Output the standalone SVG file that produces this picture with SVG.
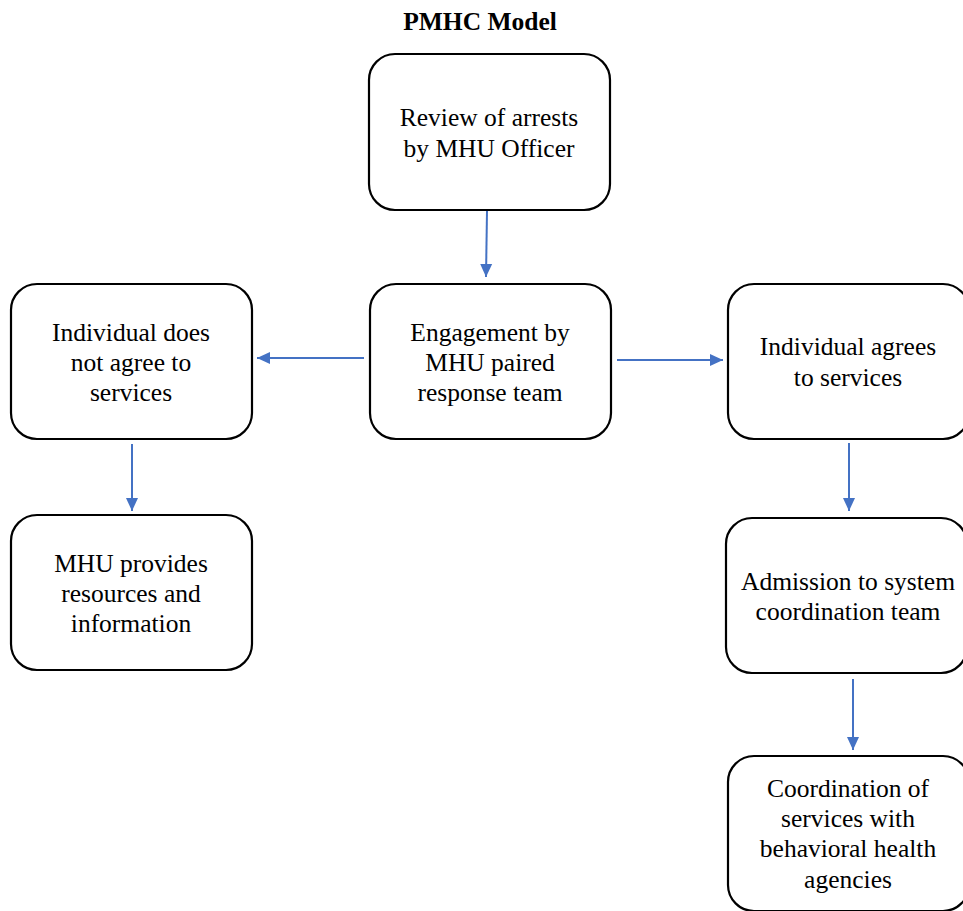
<svg xmlns="http://www.w3.org/2000/svg" width="963" height="911" viewBox="0 0 963 911">
<style>
.box{fill:#fff;stroke:#000;stroke-width:2.2}
.t{font-family:"Liberation Serif","Times New Roman",serif;font-size:25.5px;fill:#000;text-anchor:middle}
.title{font-weight:bold}
.c{stroke:#4472C4;stroke-width:2;fill:none;marker-end:url(#ah)}
</style>
<defs>
<marker id="ah" markerUnits="userSpaceOnUse" markerWidth="14" markerHeight="14" viewBox="0 0 14 14" refX="13" refY="7" orient="auto">
<path d="M0,1 L13,7 L0,13 Z" fill="#4472C4"/>
</marker>
</defs>
<rect width="963" height="911" fill="#fff"/>
<text class="t title" x="480" y="30">PMHC Model</text>
<g id="connectors">
<line class="c" x1="487" y1="211" x2="486" y2="277"/>
<line class="c" x1="364" y1="358" x2="257" y2="358"/>
<line class="c" x1="617" y1="360" x2="723" y2="360"/>
<line class="c" x1="132" y1="444" x2="132" y2="511"/>
<line class="c" x1="849" y1="443" x2="849" y2="511"/>
<line class="c" x1="853" y1="679" x2="853" y2="750"/>
</g>
<g id="review">
<rect class="box" x="369" y="54" width="241" height="156" rx="26"/>
<text class="t" x="489" y="126">Review of arrests</text>
<text class="t" x="489" y="157">by MHU Officer</text>
</g>
<g id="engagement">
<rect class="box" x="370" y="284" width="241" height="155" rx="26"/>
<text class="t" x="490" y="341">Engagement by</text>
<text class="t" x="490" y="371">MHU paired</text>
<text class="t" x="490" y="401">response team</text>
</g>
<g id="not-agree">
<rect class="box" x="11" y="284" width="241" height="155" rx="26"/>
<text class="t" x="131" y="341">Individual does</text>
<text class="t" x="131" y="371">not agree to</text>
<text class="t" x="131" y="401">services</text>
</g>
<g id="agrees">
<rect class="box" x="728" y="284" width="241" height="155" rx="26"/>
<text class="t" x="848" y="355">Individual agrees</text>
<text class="t" x="848" y="386">to services</text>
</g>
<g id="resources">
<rect class="box" x="11" y="515" width="241" height="155" rx="26"/>
<text class="t" x="131" y="572">MHU provides</text>
<text class="t" x="131" y="602">resources and</text>
<text class="t" x="131" y="632">information</text>
</g>
<g id="admission">
<rect class="box" x="726" y="518" width="241" height="155" rx="26"/>
<text class="t" x="848" y="590">Admission to system</text>
<text class="t" x="848" y="620">coordination team</text>
</g>
<g id="coordination">
<rect class="box" x="728" y="756" width="241" height="155" rx="26"/>
<text class="t" x="848" y="797">Coordination of</text>
<text class="t" x="848" y="827">services with</text>
<text class="t" x="848" y="857">behavioral health</text>
<text class="t" x="848" y="888">agencies</text>
</g>
</svg>
